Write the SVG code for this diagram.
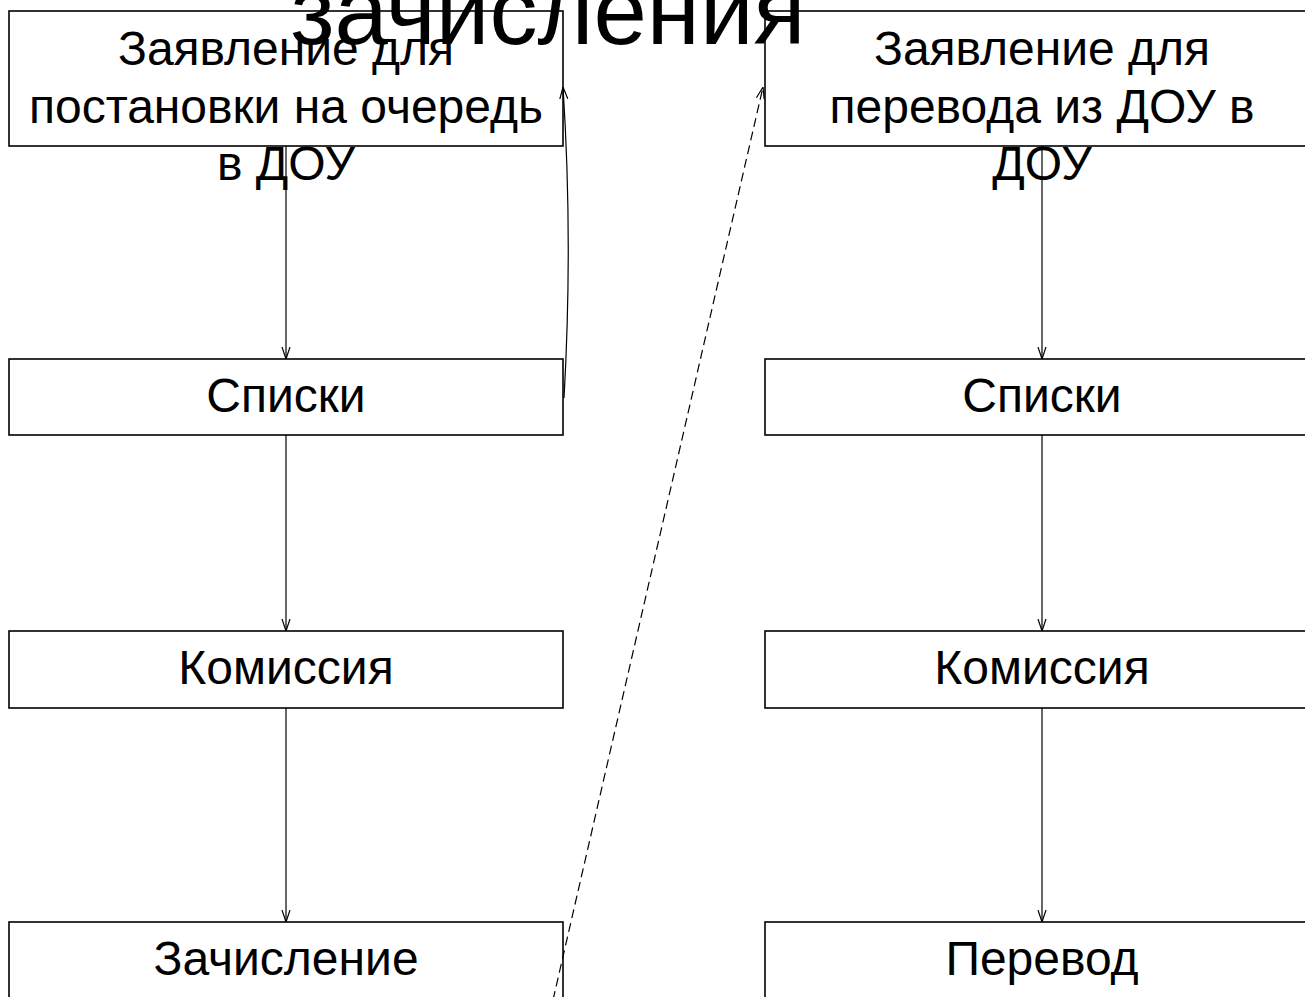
<svg xmlns="http://www.w3.org/2000/svg" width="1305" height="997" viewBox="0 0 1305 997">
<style>
.box{fill:none;stroke:#000;stroke-width:1.6}
.t{font-family:"Liberation Sans",Arial,sans-serif;font-size:48px;fill:#000;text-anchor:middle}
.title{font-family:"Liberation Sans",Arial,sans-serif;font-size:96px;fill:#000;text-anchor:middle}
.c{fill:none;stroke:#000;stroke-width:1.2}
.d{fill:none;stroke:#000;stroke-width:1.2;stroke-dasharray:9,5}
</style>
<defs>
<marker id="ah" markerUnits="userSpaceOnUse" markerWidth="12" markerHeight="16" refX="12" refY="4" orient="auto" viewBox="0 0 12 8">
<path d="M0,0 L12,4 L0,8" fill="none" stroke="#000" stroke-width="1.2"/>
</marker>
</defs>
<g id="connectors">
<line class="c" x1="286" y1="146" x2="286" y2="359" marker-end="url(#ah)"/>
<line class="c" x1="286" y1="435" x2="286" y2="631" marker-end="url(#ah)"/>
<line class="c" x1="286" y1="708" x2="286" y2="922" marker-end="url(#ah)"/>
<line class="c" x1="1042" y1="146" x2="1042" y2="359" marker-end="url(#ah)"/>
<line class="c" x1="1042" y1="435" x2="1042" y2="631" marker-end="url(#ah)"/>
<line class="c" x1="1042" y1="708" x2="1042" y2="922" marker-end="url(#ah)"/>
<path class="c" d="M564,398 Q573,240 563,87" marker-end="url(#ah)"/>
<line class="d" x1="553" y1="1000" x2="763" y2="87" marker-end="url(#ah)"/>
</g>
<g id="n1">
<rect class="box" x="9" y="11" width="554" height="135"/>
<text class="t" x="286" y="65">Заявление для</text>
<text class="t" x="286" y="122.5">постановки на очередь</text>
<text class="t" x="286" y="180">в ДОУ</text>
</g>
<g id="n2"><rect class="box" x="9" y="359" width="554" height="76"/><text class="t" x="286" y="412">Списки</text></g>
<g id="n3"><rect class="box" x="9" y="631" width="554" height="77"/><text class="t" x="286" y="684">Комиссия</text></g>
<g id="n4"><rect class="box" x="9" y="922" width="554" height="77"/><text class="t" x="286" y="975">Зачисление</text></g>
<g id="n5">
<rect class="box" x="765" y="11" width="554" height="135"/>
<text class="t" x="1042" y="65">Заявление для</text>
<text class="t" x="1042" y="122.5">перевода из ДОУ в</text>
<text class="t" x="1042" y="180">ДОУ</text>
</g>
<g id="n6"><rect class="box" x="765" y="359" width="554" height="76"/><text class="t" x="1042" y="412">Списки</text></g>
<g id="n7"><rect class="box" x="765" y="631" width="554" height="77"/><text class="t" x="1042" y="684">Комиссия</text></g>
<g id="n8"><rect class="box" x="765" y="922" width="554" height="77"/><text class="t" x="1042" y="975">Перевод</text></g>
<g id="title"><text class="title" x="548" y="44">зачисления</text></g>
</svg>
